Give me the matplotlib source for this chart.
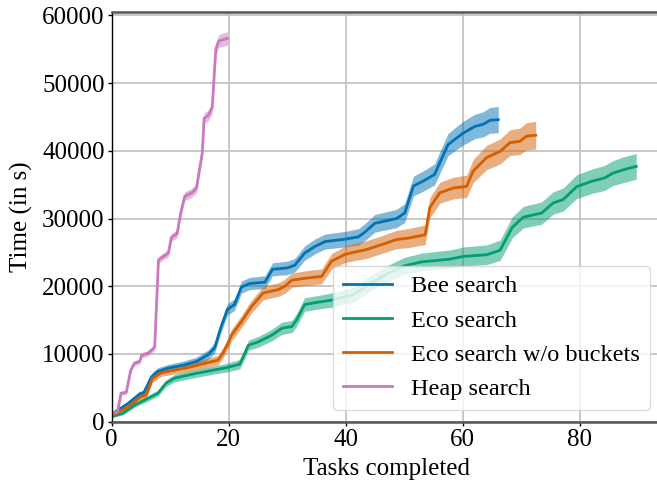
import matplotlib
matplotlib.use("Agg")
import numpy as np
import matplotlib.pyplot as plt

# ---- data (tasks completed vs. mean time, with band half-width)
bee_tasks = [0, 2.8, 4.8, 5.5, 6.8, 7.8, 9.6, 12.5, 14.5, 16.5, 17.6, 18.7, 19.8, 21.0,
             22.2, 23.6, 26.2, 27.5, 30.0, 31.3, 33.0, 34.8, 36.5, 39.9, 42.2, 43.3,
             45.0, 48.7, 50.1, 51.6, 53.2, 55.2, 57.5, 59.0, 60.1, 62.1, 63.5, 64.7, 66.1]
bee_time = [1100, 2700, 4100, 4300, 6600, 7400, 7900, 8400, 8900, 9900, 10900, 14000,
            16600, 17300, 19900, 20400, 20600, 22500, 22700, 23100, 24900, 25900, 26600,
            26950, 27300, 28000, 29300, 30000, 30800, 34800, 35500, 36500, 40900, 41900,
            42600, 43600, 43900, 44500, 44600]
bee_spread = [150, 300, 400, 400, 500, 550, 550, 600, 650, 700, 750, 800, 850, 850, 900,
              900, 950, 950, 1000, 1000, 1050, 1100, 1100, 1150, 1200, 1250, 1300, 1350,
              1400, 1450, 1500, 1550, 1650, 1700, 1750, 1800, 1850, 1900, 1950]

eco_tasks = [0, 1.9, 3.9, 7.9, 9.3, 10.8, 14.8, 17.6, 19.5, 21.9, 23.4, 25.1, 27.4, 29.1,
             30.8, 31.6, 33.0, 35.3, 37.6, 41.3, 44.0, 47.0, 50.0, 53.0, 57.8, 60.1, 64.1,
             66.4, 68.5, 70.4, 73.5, 75.5, 77.2, 79.5, 82.1, 84.3, 85.7, 87.5, 89.7]
eco_time = [750, 1250, 2450, 4200, 5700, 6450, 7200, 7650, 7950, 8500, 11300, 11800, 12800,
            13800, 14050, 15000, 17300, 17650, 17950, 18750, 20300, 21800, 23000, 23600,
            24000, 24400, 24650, 25300, 28700, 30200, 30800, 32300, 32800, 34700, 35500,
            36000, 36700, 37200, 37700]
eco_spread = [150, 250, 350, 450, 500, 550, 600, 600, 650, 700, 750, 800, 850, 900, 900,
              950, 1000, 1000, 1050, 1100, 1150, 1200, 1250, 1300, 1350, 1400, 1450, 1500,
              1550, 1600, 1650, 1650, 1700, 1750, 1800, 1850, 1850, 1900, 1900]

nob_tasks = [0, 2.8, 5.0, 5.9, 7.0, 8.5, 12.5, 15.9, 18.2, 19.0, 19.9, 20.5, 22.2, 23.9,
             25.9, 28.5, 29.6, 30.8, 33.3, 35.9, 37.6, 39.9, 41.3, 43.5, 45.3, 48.7, 50.7,
             53.6, 54.4, 56.1, 58.4, 60.7, 61.8, 64.1, 66.4, 68.1, 69.8, 70.9, 72.5]
nob_time = [900, 2200, 3700, 3950, 6400, 7250, 7900, 8600, 9100, 10100, 11600, 12800, 14800,
            17000, 19000, 19500, 20000, 20900, 21200, 21450, 23700, 24700, 25000, 25400,
            25900, 26900, 27100, 27600, 31600, 33800, 34500, 34750, 37000, 39000, 39900,
            41200, 41400, 42150, 42300]
nob_spread = [150, 300, 400, 450, 500, 550, 600, 650, 700, 750, 800, 850, 900, 950, 1000,
              1000, 1050, 1050, 1100, 1100, 1150, 1200, 1250, 1300, 1300, 1350, 1400, 1450,
              1500, 1550, 1600, 1650, 1700, 1800, 1850, 1900, 1950, 2000, 2050]

heap_tasks = [0, 1.0, 1.6, 2.5, 3.25, 3.9, 4.8, 5.1, 6.2, 7.35, 8.0, 9.0, 9.7, 10.2, 11.2,
              11.8, 12.5, 13.7, 14.5, 15.1, 15.5, 15.8, 16.5, 17.2, 17.8, 18.3, 19.8]
heap_time = [1300, 1400, 4200, 4350, 7600, 8650, 8900, 9800, 10100, 11000, 23900, 24500,
             24900, 27200, 27800, 30800, 33300, 33800, 34500, 37700, 39700, 44800, 45200,
             46400, 55000, 56200, 56600]
heap_spread = [200, 200, 300, 300, 350, 350, 400, 400, 400, 450, 500, 500, 550, 550, 600,
               600, 650, 650, 700, 700, 750, 800, 800, 850, 900, 950, 1000]

labels = ["Bee search", "Eco search", "Eco search w/o buckets", "Heap search"]
colors = ["#0173b2", "#029e73", "#d55e00", "#cc78bc"]

series = [
    (bee_tasks, bee_time, bee_spread),
    (eco_tasks, eco_time, eco_spread),
    (nob_tasks, nob_time, nob_spread),
    (heap_tasks, heap_time, heap_spread),
]

plt.rcParams["font.family"] = ["Liberation Serif", "DejaVu Serif"]
plt.rcParams["font.size"] = 18

fig = plt.figure(figsize=(6.57, 4.84), dpi=100)
ax = fig.add_axes([0.170, 0.1287, 0.8376, 0.8459])

for (tasks, time, spread), label, color in zip(series, labels, colors):
    t = np.array(tasks)
    y = np.array(time)
    s = np.array(spread)
    ax.fill_between(t, y - s, y + s, color=color, alpha=0.5, linewidth=0)
    ax.plot(t, y, color=color, linewidth=2.0, label=label)

ax.set_xlim(0, 94.1)
ax.set_ylim(0, 60450)
ax.set_xticks([0, 20, 40, 60, 80])
ax.set_yticks([0, 10000, 20000, 30000, 40000, 50000, 60000])

ax.grid(True, color="#c4c4c4", linewidth=1.3)
ax.set_axisbelow(True)

ax.spines["right"].set_visible(False)
ax.spines["left"].set_color("black")
ax.spines["left"].set_linewidth(1.0)
for side in ("top", "bottom"):
    ax.spines[side].set_color("#555555")
    ax.spines[side].set_linewidth(1.8)
ax.tick_params(direction="out", length=3, width=1, color="black", pad=2)

ax.set_xlabel("Tasks completed", labelpad=5)
ax.set_ylabel("Time (in s)", labelpad=7)

leg = ax.legend(loc="lower right", framealpha=0.8, fancybox=True, fontsize=17.5,
                handlelength=2.0, borderaxespad=0.5)
leg.get_frame().set_edgecolor("#d0d0d0")

fig.savefig("out.png", dpi=100)
